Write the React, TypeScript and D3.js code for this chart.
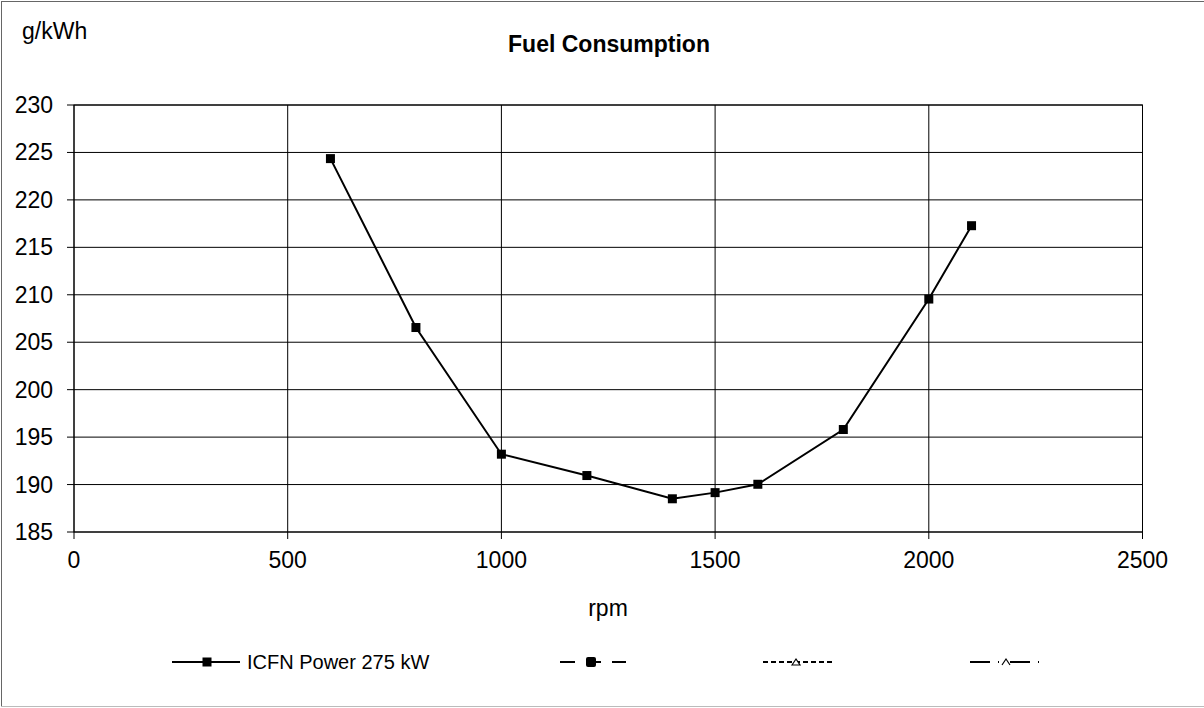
import React from "react";
import * as d3 from "d3";

const rpm = [600, 800, 1000, 1200, 1400, 1500, 1600, 1800, 2000, 2100];
const consumption = [224.35, 206.55, 193.2, 190.95, 188.5, 189.15, 190.03, 195.8, 209.55, 217.28];
const xTicks = [0, 500, 1000, 1500, 2000, 2500];
const yTicks = [185, 190, 195, 200, 205, 210, 215, 220, 225, 230];
const seriesName = "ICFN Power 275 kW";
const chartTitle = "Fuel Consumption";
const yUnit = "g/kWh";
const xTitle = "rpm";

const W = 1204;
const H = 708;
const FONT = "'Liberation Sans', Arial, sans-serif";

export default function App() {
  const x = d3.scaleLinear().domain([0, 2500]).range([74, 1142.5]);
  const y = d3.scaleLinear().domain([185, 230]).range([532, 105]);
  const line = d3
    .line<number>()
    .x((_, i) => x(rpm[i]))
    .y((d) => y(d));
  const [x0, x1] = x.range();
  const [y0, y1] = y.range();
  const ms = 9;

  return (
    <svg
      width={W}
      height={H}
      style={{ position: "absolute", left: 0, top: 0, background: "#fff" }}
      fontFamily={FONT}
    >
      <rect x={0} y={0} width={W} height={H} fill="#fff" />
      {/* outer frame */}
      <line x1={1.5} y1={1} x2={1.5} y2={707} stroke="#666" />
      <line x1={1} y1={1.5} x2={W} y2={1.5} stroke="#666" />
      <line x1={1} y1={706.5} x2={W} y2={706.5} stroke="#bbb" />

      <text x={22} y={39} fontSize={23}>{yUnit}</text>
      <text x={609} y={52} fontSize={23} fontWeight="bold" textAnchor="middle">
        {chartTitle}
      </text>

      {/* gridlines */}
      {yTicks.map((t) => (
        <line key={"gy" + t} x1={x0 - 7} x2={x1} y1={y(t)} y2={y(t)} stroke="#000" strokeWidth={1} />
      ))}
      {xTicks.map((t) => (
        <line key={"gx" + t} x1={x(t)} x2={x(t)} y1={y1} y2={y0 + 7} stroke="#000" strokeWidth={1} />
      ))}
      <rect x={x0} y={y1} width={x1 - x0} height={y0 - y1} fill="none" stroke="#000" strokeWidth={1} />

      {/* tick labels */}
      {yTicks.map((t) => (
        <text key={"ly" + t} x={53} y={y(t) + 8} fontSize={23} textAnchor="end">
          {t}
        </text>
      ))}
      {xTicks.map((t) => (
        <text key={"lx" + t} x={x(t)} y={568} fontSize={23} textAnchor="middle">
          {t}
        </text>
      ))}
      <text x={608} y={616} fontSize={23} textAnchor="middle">{xTitle}</text>

      {/* series */}
      <path d={line(consumption) || ""} fill="none" stroke="#000" strokeWidth={2} />
      {consumption.map((v, i) => (
        <rect key={"m" + i} x={x(rpm[i]) - ms / 2} y={y(v) - ms / 2} width={ms} height={ms} fill="#000" />
      ))}

      {/* legend */}
      <g>
        <line x1={172} x2={240} y1={662} y2={662} stroke="#000" strokeWidth={2} />
        <rect x={207 - ms / 2} y={662 - ms / 2} width={ms} height={ms} fill="#000" />
        <text x={247} y={669} fontSize={20}>{seriesName}</text>

        <line x1={560} x2={626} y1={662} y2={662} stroke="#000" strokeWidth={2} strokeDasharray="15 11" />
        <rect x={591 - 5} y={662 - 5} width={10} height={10} rx={2} fill="#000" />

        <line x1={763} x2={832} y1={662} y2={662} stroke="#000" strokeWidth={2} strokeDasharray="5 3" />
        <path d="M792,665 L796,659 L800,665 Z" fill="#fff" stroke="#000" strokeWidth={1.2} />

        <line x1={970} x2={1040} y1={662} y2={662} stroke="#000" strokeWidth={2} strokeDasharray="20 8 1 11" />
        <path d="M1002,665 L1006,659 L1010,665" fill="none" stroke="#000" strokeWidth={1.2} />
      </g>
    </svg>
  );
}
